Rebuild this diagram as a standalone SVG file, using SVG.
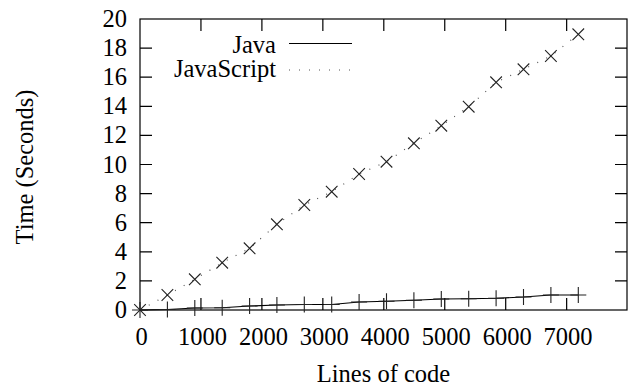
<svg xmlns="http://www.w3.org/2000/svg" xmlns:xlink="http://www.w3.org/1999/xlink" width="631" height="388" viewBox="0 0 631 388">
<style>
text{font-family:"Liberation Serif","Times New Roman",serif;font-size:24.5px;fill:#000}
.ax{fill:none;stroke:#000;stroke-width:1.2}
.ylab{text-anchor:end}
.xlab{text-anchor:middle}
.java{fill:none;stroke:#000;stroke-width:1.1}
.js{fill:none;stroke:#555;stroke-width:1.2;stroke-dasharray:1 9}
.mk{fill:none;stroke:#222;stroke-width:1.1}
</style>
<defs>
<path id="plus" class="mk" d="M-8,0H8M0,-8V8"/>
<path id="cross" class="mk" d="M-5.8,-5.8L5.8,5.8M-5.8,5.8L5.8,-5.8"/>
</defs>
<rect width="631" height="388" fill="#fff"/>
<g id="axes">
<rect class="ax" x="140" y="19" width="487" height="291"/>
<path class="ax" d="M140,280.9h12M140,251.8h12M140,222.7h12M140,193.6h12M140,164.5h12M140,135.4h12M140,106.3h12M140,77.2h12M140,48.1h12
M627,280.9h-12M627,251.8h-12M627,222.7h-12M627,193.6h-12M627,164.5h-12M627,135.4h-12M627,106.3h-12M627,77.2h-12M627,48.1h-12
M200.95,310v-12M261.9,310v-12M322.85,310v-12M383.8,310v-12M444.75,310v-12M505.7,310v-12M566.65,310v-12
M200.95,19v12M261.9,19v12M322.85,19v12M383.8,19v12M444.75,19v12M505.7,19v12M566.65,19v12"/>
</g>
<g id="y-labels">
<text class="ylab" x="127" y="318">0</text>
<text class="ylab" x="127" y="288.9">2</text>
<text class="ylab" x="127" y="259.8">4</text>
<text class="ylab" x="127" y="230.7">6</text>
<text class="ylab" x="127" y="201.6">8</text>
<text class="ylab" x="127" y="172.5">10</text>
<text class="ylab" x="127" y="143.4">12</text>
<text class="ylab" x="127" y="114.3">14</text>
<text class="ylab" x="127" y="85.2">16</text>
<text class="ylab" x="127" y="56.1">18</text>
<text class="ylab" x="127" y="27">20</text>
</g>
<g id="x-labels">
<text class="xlab" x="141.5" y="345">0</text>
<text class="xlab" x="202.5" y="345">1000</text>
<text class="xlab" x="263.4" y="345">2000</text>
<text class="xlab" x="324.3" y="345">3000</text>
<text class="xlab" x="385.3" y="345">4000</text>
<text class="xlab" x="446.2" y="345">5000</text>
<text class="xlab" x="507.2" y="345">6000</text>
<text class="xlab" x="568.1" y="345">7000</text>
</g>
<g id="axis-titles">
<text class="xlab" x="383.5" y="382">Lines of code</text>
<text class="xlab" transform="translate(33,167) rotate(-90)">Time (Seconds)</text>
</g>
<g id="connectors">
<polyline id="java-line" class="java" points="140,310 167.4,309.5 194.8,308 222.2,307.7 249.6,306 276.9,305 304.3,304.5 331.7,304.5 359.1,302 386.5,301.3 413.9,300.3 441.3,299 468.7,298.7 496.1,298.3 523.5,297 550.9,295 578.3,295"/>
<polyline id="js-line" class="js" points="140,310 167.4,295 194.8,279.3 222.2,262.7 249.6,248.3 276.9,224.3 304.3,205 331.7,191.7 359.1,174 386.5,161.7 413.9,143.3 441.3,125.7 468.7,106.7 496.1,82.3 523.5,69.3 550.9,56 578.3,34.3"/>
</g>
<g id="java-points">
<use href="#plus" x="140" y="310"/><use href="#plus" x="167.4" y="309.5"/><use href="#plus" x="194.8" y="308"/><use href="#plus" x="222.2" y="307.7"/><use href="#plus" x="249.6" y="306"/><use href="#plus" x="276.9" y="305"/><use href="#plus" x="304.3" y="304.5"/><use href="#plus" x="331.7" y="304.5"/><use href="#plus" x="359.1" y="302"/><use href="#plus" x="386.5" y="301.3"/><use href="#plus" x="413.9" y="300.3"/><use href="#plus" x="441.3" y="299"/><use href="#plus" x="468.7" y="298.7"/><use href="#plus" x="496.1" y="298.3"/><use href="#plus" x="523.5" y="297"/><use href="#plus" x="550.9" y="295"/><use href="#plus" x="578.3" y="295"/>
</g>
<g id="js-points">
<use href="#cross" x="140" y="310"/><use href="#cross" x="167.4" y="295"/><use href="#cross" x="194.8" y="279.3"/><use href="#cross" x="222.2" y="262.7"/><use href="#cross" x="249.6" y="248.3"/><use href="#cross" x="276.9" y="224.3"/><use href="#cross" x="304.3" y="205"/><use href="#cross" x="331.7" y="191.7"/><use href="#cross" x="359.1" y="174"/><use href="#cross" x="386.5" y="161.7"/><use href="#cross" x="413.9" y="143.3"/><use href="#cross" x="441.3" y="125.7"/><use href="#cross" x="468.7" y="106.7"/><use href="#cross" x="496.1" y="82.3"/><use href="#cross" x="523.5" y="69.3"/><use href="#cross" x="550.9" y="56"/><use href="#cross" x="578.3" y="34.3"/>
</g>
<g id="legend">
<text class="ylab" x="276" y="53">Java</text>
<path class="java" d="M289,43.5H352"/>
<text class="ylab" x="276" y="76.5">JavaScript</text>
<path class="js" d="M289,70H352"/>
</g>
</svg>
